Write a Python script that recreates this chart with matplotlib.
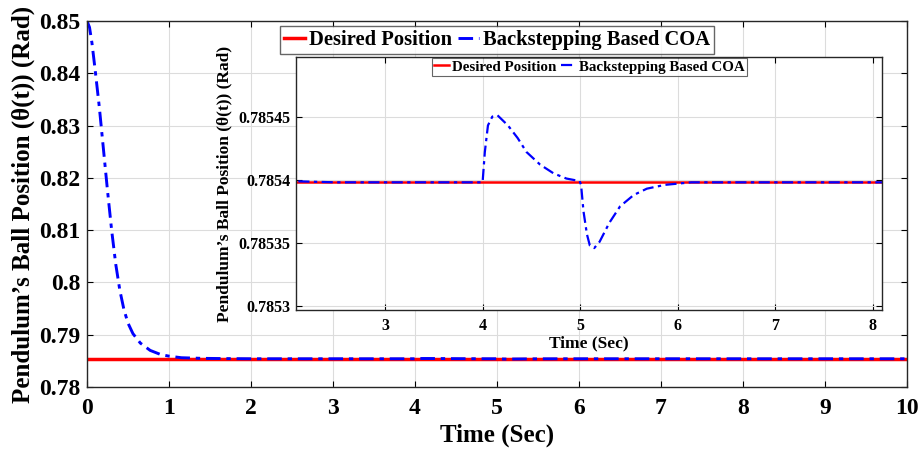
import numpy as np
import matplotlib
matplotlib.use("Agg")
import matplotlib.pyplot as plt

plt.rcParams['font.family'] = ['Liberation Serif', 'DejaVu Serif']
plt.rcParams['font.weight'] = 'bold'

# Reference angle (pi/4 rad)
desired_value = 0.7853982

# Pendulum angle response under the backstepping COA controller
time_s = [0.0, 0.03, 0.06, 0.1, 0.15, 0.2, 0.25, 0.3, 0.35, 0.4, 0.45, 0.5,
          0.56, 0.65, 0.77, 0.9, 1.0, 1.15, 1.4, 1.7, 2.0, 2.5, 3.0, 3.5, 4.0,
          4.023, 4.055, 4.10, 4.153, 4.26, 4.36, 4.45, 4.59, 4.73, 4.86, 4.995,
          5.01, 5.035, 5.07, 5.10, 5.145, 5.20, 5.30, 5.41, 5.55, 5.685, 5.87,
          6.14, 7.0, 8.0, 9.0, 10.0]
theta_rad = [0.85, 0.8488, 0.8458, 0.8405, 0.8335, 0.8255, 0.8175, 0.8100,
             0.8035, 0.7985, 0.7948, 0.7922, 0.7902, 0.7884, 0.7870, 0.7862,
             0.7859, 0.7856, 0.78548, 0.78543, 0.785399, 0.785398, 0.785398,
             0.785398, 0.785398,
             0.785422, 0.785443, 0.785450, 0.785451, 0.785443, 0.785433,
             0.785422, 0.785412, 0.785405, 0.785401, 0.785399,
             0.785396, 0.785375, 0.785357, 0.785348, 0.785346, 0.785351,
             0.785366, 0.785379, 0.785388, 0.785393, 0.785396,
             0.785398, 0.785398, 0.785398, 0.785398, 0.785398]

main_xticks = [0, 1, 2, 3, 4, 5, 6, 7, 8, 9, 10]
main_yticks = [0.78, 0.79, 0.80, 0.81, 0.82, 0.83, 0.84, 0.85]
main_ylabels = ['0.78', '0.79', '0.8', '0.81', '0.82', '0.83', '0.84', '0.85']
inset_xticks = [3, 4, 5, 6, 7, 8]
inset_yticks = [0.7853, 0.78535, 0.7854, 0.78545]
inset_ylabels = ['0.7853', '0.78535', '0.7854', '0.78545']

labels = ['Desired Position', 'Backstepping Based COA']
ylabel = 'Pendulum\u2019s Ball Position (\u03b8(t)) (Rad)'
xlabel = 'Time (Sec)'

fig = plt.figure(figsize=(9.22, 4.5), dpi=100)
ax = fig.add_axes([0.0944, 0.14, 0.8893, 0.8133])

def style_axes(a, fs, xpad, ypad):
    a.grid(True, color='#dcdcdc', linewidth=0.8)
    a.set_axisbelow(True)
    a.tick_params(direction='in', top=True, right=True, labelsize=fs,
                  length=4, width=0.8)
    a.tick_params(axis='x', pad=xpad)
    a.tick_params(axis='y', pad=ypad)
    for s in a.spines.values():
        s.set_linewidth(1.0)
        s.set_color('#262626')
    for lab in a.get_xticklabels() + a.get_yticklabels():
        lab.set_fontweight('bold')

dash_dot = (0, (5, 2, 1.5, 2))

ax.plot([0, 10], [desired_value, desired_value], color='#ff0000', lw=2.5,
        label=labels[0])
ax.plot(time_s, theta_rad, color='#0000ff', lw=2.1, linestyle=dash_dot,
        label=labels[1])
ax.set_xlim(0, 10)
ax.set_ylim(0.78, 0.85)
ax.set_xticks(main_xticks)
ax.set_yticks(main_yticks)
ax.set_yticklabels(main_ylabels)
style_axes(ax, 17, 8, 5)
ax.set_xlabel(xlabel, fontsize=18, fontweight='bold', labelpad=3)
ax.set_ylabel(ylabel, fontsize=18, fontweight='bold', labelpad=3)
leg = ax.legend(loc='upper center', ncol=2, frameon=True,
                fancybox=False, edgecolor='#404040', handlelength=1.0,
                handletextpad=0.2, columnspacing=0.3, borderpad=0.2,
                borderaxespad=0.25, prop={'weight': 'bold', 'size': 14.8})
leg.get_frame().set_linewidth(1.0)

ins = fig.add_axes([0.321, 0.311, 0.636, 0.562])
ins.plot([0, 10], [desired_value, desired_value], color='#ff0000', lw=1.8,
         label=labels[0])
ins.plot(time_s, theta_rad, color='#0000ff', lw=1.6, linestyle=dash_dot,
         label=labels[1])
ins.set_xlim(2.086, 8.1)
ins.set_ylim(0.785297, 0.785497)
ins.set_xticks(inset_xticks)
ins.set_yticks(inset_yticks)
ins.set_yticklabels(inset_ylabels)
style_axes(ins, 11.5, 6, 4)
ins.set_xlabel(xlabel, fontsize=12.5, fontweight='bold', labelpad=1)
ins.set_ylabel(ylabel, fontsize=12.5, fontweight='bold', labelpad=4)
leg2 = ins.legend(loc='upper center', ncol=2, frameon=True, fancybox=False,
                  edgecolor='#404040', handlelength=1.0, handletextpad=0.2,
                  columnspacing=0.3, borderpad=0.15, borderaxespad=0.05,
                  prop={'weight': 'bold', 'size': 10.8})
leg2.get_frame().set_linewidth(0.8)

fig.savefig('out.png', dpi=100)
